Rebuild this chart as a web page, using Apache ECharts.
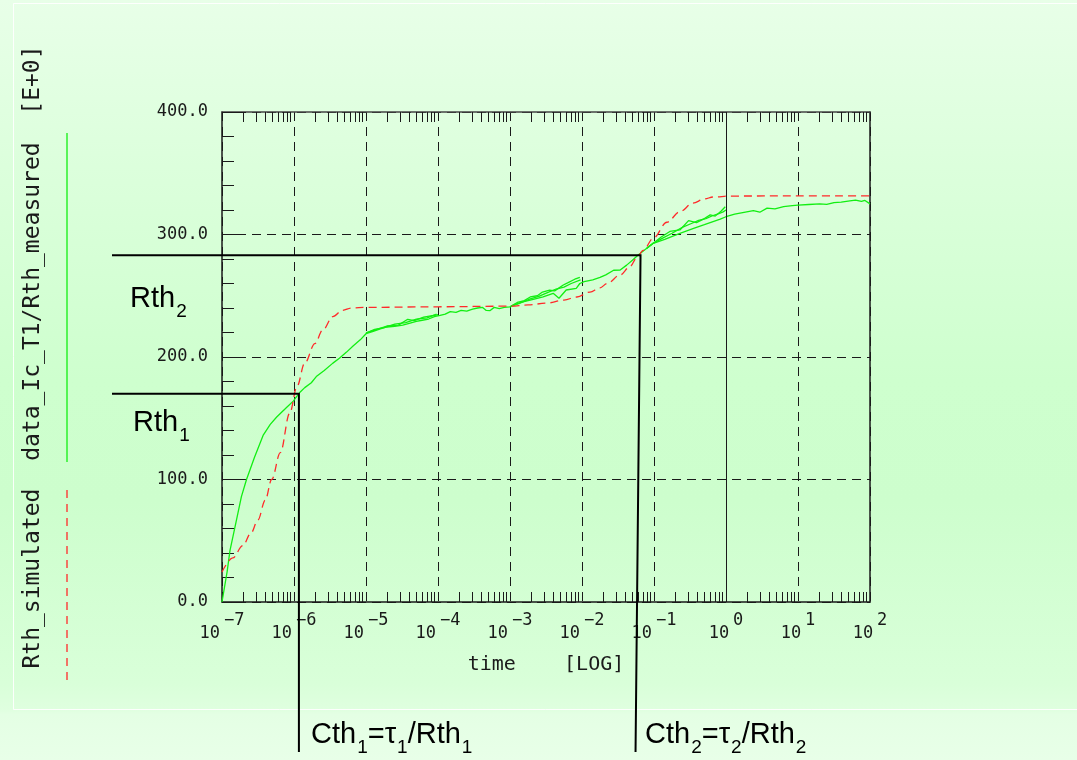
<!DOCTYPE html>
<html>
<head>
<meta charset="utf-8">
<script src="https://cdn.jsdelivr.net/npm/echarts@6/dist/echarts.min.js"></script>
<style>
  html, body {
    margin: 0; padding: 0; width: 1077px; height: 760px; overflow: hidden;
    background: linear-gradient(to bottom, #e8ffe8 0%, #dcffdc 22%, #ceffce 50%, #cdfecd 66%, #d9ffd9 90%, #dfffdf 93.3%, #e4ffe4 94%, #e8ffe8 100%);
  }
  #chart { width: 1077px; height: 760px; }
</style>
</head>
<body>
<div id="chart"></div>
<script>
// Thermal impedance step response: simulated Rth vs. measured Rth (time in seconds, Rth in K/W)

// x axis decades (exponents of 10) and y axis tick values
const decadeExponents = [-7, -6, -5, -4, -3, -2, -1, 0, 1, 2];
const yTickValues = [0, 100, 200, 300, 400];

// Rth_simulated  [time (s), Rth]
const rthSimulated = [
  [1.0e-7, 24.5], [1.41e-7, 36], [1.95e-7, 46], [2.51e-7, 56], [3.16e-7, 67],
  [3.98e-7, 83], [4.90e-7, 100], [6.46e-7, 122], [8.71e-7, 154], [1.10e-6, 176],
  [1.41e-6, 195], [1.95e-6, 211], [2.51e-6, 222], [3.47e-6, 233], [4.68e-6, 238],
  [6.31e-6, 240], [1.0e-5, 240.5], [1.0e-4, 241], [1.0e-3, 241.5], [1.78e-3, 242.5],
  [3.24e-3, 244], [5.62e-3, 246.5], [8.51e-3, 249], [1.29e-2, 253], [1.78e-2, 256.5],
  [2.24e-2, 260], [3.39e-2, 267], [4.68e-2, 274], [5.75e-2, 281], [7.08e-2, 287],
  [9.77e-2, 297], [1.51e-1, 310], [2.29e-1, 318.6], [3.47e-1, 325.6], [5.01e-1, 329],
  [6.61e-1, 330.6], [1.15, 331.4], [10, 331.5], [100, 331.5]
];

// data_Ic_T1/Rth_measured, full time range  [time (s), Rth]
const rthMeasured = [
  [1.0e-7, 0], [1.18e-7, 25], [1.29e-7, 42], [1.55e-7, 64], [1.86e-7, 86],
  [2.19e-7, 100], [2.82e-7, 118], [3.72e-7, 136], [4.68e-7, 145], [5.75e-7, 151],
  [7.94e-7, 159], [9.77e-7, 164], [1.10e-6, 168], [1.20e-6, 171], [1.41e-6, 175],
  [1.74e-6, 179], [2.04e-6, 184], [2.63e-6, 189], [3.47e-6, 195], [4.27e-6, 199],
  [5.37e-6, 204], [6.61e-6, 209], [8.32e-6, 214], [1.0e-5, 219], [1.26e-5, 221],
  [1.58e-5, 223], [1.95e-5, 224.5], [2.51e-5, 225], [3.24e-5, 226], [3.98e-5, 227.5],
  [5.01e-5, 229], [6.03e-5, 230], [7.41e-5, 231], [8.91e-5, 233], [1.07e-4, 234],
  [1.26e-4, 235], [1.48e-4, 237], [1.78e-4, 236.5], [2.09e-4, 238], [2.51e-4, 237.5],
  [3.02e-4, 239], [3.55e-4, 240], [4.17e-4, 240.5], [4.68e-4, 238], [5.25e-4, 237.8],
  [6.03e-4, 240.5], [7.08e-4, 239.5], [8.32e-4, 240.5], [1.0e-3, 241], [1.17e-3, 243],
  [1.51e-3, 245], [1.91e-3, 246.5], [2.88e-3, 249], [3.98e-3, 252], [4.79e-3, 248],
  [6.03e-3, 254.7], [8.32e-3, 256], [9.33e-3, 260], [1.07e-2, 261.5], [1.41e-2, 263],
  [1.78e-2, 265], [2.14e-2, 267], [2.75e-2, 270.8], [3.39e-2, 271], [4.17e-2, 275],
  [5.01e-2, 279], [6.03e-2, 283.3], [7.94e-2, 288.7], [9.55e-2, 292.5], [1.41e-1, 296],
  [2.29e-1, 301], [3.55e-1, 305], [5.01e-1, 308], [6.61e-1, 310.5], [8.32e-1, 312.5],
  [1.0, 314.5], [1.32, 316.6], [1.78, 318], [2.40, 319.4], [2.95, 318.2],
  [3.72, 321.5], [4.79, 321], [6.31, 322.7], [8.32, 323.5], [10, 324],
  [14.1, 324.5], [20.0, 325], [25.1, 324.6], [31.6, 326], [39.8, 326.5],
  [52.5, 327.5], [63.1, 328], [75.9, 327], [85.1, 327.8], [100, 325]
];

// repeated measurement windows (1e-5..1e-4 s)
const rthMeasuredA2 = [
  [1.0e-5, 219.6], [1.26e-5, 221.5], [1.95e-5, 225.3], [2.82e-5, 226], [3.80e-5, 230.8],
  [4.68e-5, 229.7], [6.31e-5, 232.5], [7.94e-5, 233.5], [1.0e-4, 234.5]
];
const rthMeasuredA3 = [
  [1.0e-5, 219.6], [1.32e-5, 222.5], [1.78e-5, 224], [2.51e-5, 226.8], [3.55e-5, 228],
  [5.01e-5, 231], [7.08e-5, 232], [9.55e-5, 235]
];
// repeated measurement windows (1e-3..1e-2 s)
const rthMeasuredB2 = [
  [1.0e-3, 241], [1.26e-3, 244.5], [1.58e-3, 246], [1.91e-3, 249], [2.40e-3, 250],
  [2.82e-3, 253], [3.55e-3, 254.5], [4.17e-3, 254], [5.50e-3, 258.8], [6.31e-3, 260.5],
  [7.94e-3, 263.5], [9.33e-3, 265]
];
const rthMeasuredB3 = [
  [1.0e-3, 241], [1.32e-3, 243.5], [1.91e-3, 247.5], [2.51e-3, 249.5], [3.31e-3, 252.5],
  [4.37e-3, 255.5], [5.62e-3, 257], [7.08e-3, 260], [9.55e-3, 263]
];
// repeated measurement windows (1e-1..1 s)
const rthMeasuredC2 = [
  [7.94e-2, 288.7], [9.55e-2, 292.5], [1.26e-1, 298], [1.66e-1, 302.5], [2.29e-1, 303.7],
  [3.02e-1, 311.3], [3.89e-1, 309.7], [5.01e-1, 313], [6.03e-1, 316], [7.08e-1, 315],
  [8.51e-1, 319], [9.77e-1, 322.7]
];
const rthMeasuredC3 = [
  [7.94e-2, 288.7], [9.55e-2, 292.5], [1.32e-1, 297], [1.78e-1, 301], [2.51e-1, 306],
  [3.31e-1, 309], [4.17e-1, 311.5], [5.25e-1, 313], [6.61e-1, 315.5], [7.94e-1, 317],
  [9.12e-1, 318.5], [1.0, 320]
];

// Thermal time constants read at the Rth plateaus
const rth1 = 170, tau1 = 1.17e-6;
const rth2 = 283, tau2 = 6.5e-2;

const INK = '#1a1a1a';
const MONO = '"DejaVu Sans Mono", "Liberation Mono", monospace';
const SANS = '"Liberation Sans", Arial, sans-serif';
const GREEN = '#12ee12';
const RED = '#ff2a2a';

// log minor tick positions (2..9 within each decade), in decade-exponent units
const minorTickExponents = [];
for (let i = 0; i < decadeExponents.length - 1; i++) {
  for (let k = 2; k <= 9; k++) minorTickExponents.push(decadeExponents[i] + Math.log10(k));
}

const chart = echarts.init(document.getElementById('chart'), null, { renderer: 'canvas' });

function expLabel(v) {
  const e = Math.round(Math.log10(v));
  return '{b|10}{e|' + (e < 0 ? '\u2212' + (-e) : String(e)) + '}';
}

const minorAxisBase = {
  type: 'value',
  min: decadeExponents[0],
  max: decadeExponents[decadeExponents.length - 1],
  axisTick: { show: true, inside: true, length: 10, customValues: minorTickExponents, lineStyle: { color: INK, width: 1 } },
  axisLabel: { show: false },
  splitLine: { show: false },
  silent: true
};

const greenLine = { color: GREEN, width: 1.3 };

chart.setOption({
  animation: false,
  backgroundColor: 'transparent',
  grid: {
    left: 222, right: 207, top: 112, bottom: 158,
    show: false,
    outerBoundsMode: 'none'
  },
  xAxis: [
    {
      type: 'log', logBase: 10,
      min: Math.pow(10, decadeExponents[0]),
      max: Math.pow(10, decadeExponents[decadeExponents.length - 1]),
      position: 'bottom',
      axisLine: { show: true, onZero: false, lineStyle: { color: INK, width: 1.5 } },
      axisTick: { show: false },
      splitLine: { show: true, lineStyle: { color: INK, width: 1, type: [9, 6] } },
      axisLabel: {
        margin: 10,
        formatter: expLabel,
        rich: {
          b: { fontFamily: MONO, fontSize: 17, color: INK, lineHeight: 18, verticalAlign: 'top', padding: [13, 0, 0, 0] },
          e: { fontFamily: MONO, fontSize: 17, color: INK, lineHeight: 18, verticalAlign: 'top', padding: [0, 0, 0, 4] }
        }
      },
      name: 'time    [LOG]',
      nameLocation: 'middle',
      nameGap: 53,
      nameTextStyle: { fontFamily: MONO, fontSize: 20, color: INK, verticalAlign: 'top' }
    },
    Object.assign({}, minorAxisBase, { position: 'bottom', axisLine: { show: false, onZero: false } }),
    Object.assign({}, minorAxisBase, { position: 'top', axisLine: { show: true, onZero: false, lineStyle: { color: '#444', width: 1.5 } } })
  ],
  yAxis: [
    {
      type: 'value',
      min: yTickValues[0], max: yTickValues[yTickValues.length - 1], interval: 100,
      position: 'left',
      axisLine: { show: true, onZero: false, lineStyle: { color: INK, width: 1.5 } },
      axisTick: { show: true, inside: true, length: 24, lineStyle: { color: INK } },
      minorTick: { show: true, splitNumber: 5, length: 12, lineStyle: { color: INK } },
      splitLine: { show: true, lineStyle: { color: INK, width: 1, type: [9, 6] } },
      axisLabel: { margin: 14, formatter: v => v.toFixed(1), fontFamily: MONO, fontSize: 17, color: INK }
    },
    {
      // right frame edge
      type: 'value',
      min: yTickValues[0], max: yTickValues[yTickValues.length - 1], interval: 100,
      position: 'right',
      axisLine: { show: true, onZero: false, lineStyle: { color: INK, width: 1.5 } },
      axisTick: { show: false }, axisLabel: { show: false }, splitLine: { show: false },
      silent: true
    }
  ],
  series: [
    {
      name: 'data_Ic_T1/Rth_measured', type: 'line', xAxisIndex: 0, yAxisIndex: 0,
      data: rthMeasured, showSymbol: false, symbol: 'none', lineStyle: greenLine, silent: true,
      markLine: {
        silent: true, symbol: 'none', label: { show: false },
        lineStyle: { color: INK, type: 'solid', width: 1 },
        data: [{ xAxis: 1 }]
      }
    },
    { name: 'measured window A2', type: 'line', data: rthMeasuredA2, showSymbol: false, symbol: 'none', lineStyle: greenLine, silent: true },
    { name: 'measured window A3', type: 'line', data: rthMeasuredA3, showSymbol: false, symbol: 'none', lineStyle: greenLine, silent: true },
    { name: 'measured window B2', type: 'line', data: rthMeasuredB2, showSymbol: false, symbol: 'none', lineStyle: greenLine, silent: true },
    { name: 'measured window B3', type: 'line', data: rthMeasuredB3, showSymbol: false, symbol: 'none', lineStyle: greenLine, silent: true },
    { name: 'measured window C2', type: 'line', data: rthMeasuredC2, showSymbol: false, symbol: 'none', lineStyle: greenLine, silent: true },
    { name: 'measured window C3', type: 'line', data: rthMeasuredC3, showSymbol: false, symbol: 'none', lineStyle: greenLine, silent: true },
    {
      name: 'Rth_simulated', type: 'line', data: rthSimulated, showSymbol: false, symbol: 'none',
      smooth: 0.35, smoothMonotone: 'x', silent: true,
      lineStyle: { color: RED, width: 1.3, type: [8, 5] }
    }
  ]
});

// Rth / tau construction lines and labels, anchored on the data scale
const p1 = chart.convertToPixel({ xAxisIndex: 0, yAxisIndex: 0 }, [tau1, rth1]);
const p2 = chart.convertToPixel({ xAxisIndex: 0, yAxisIndex: 0 }, [tau2, rth2]);
const lineLeftX = 112, lineBottomY = 752;

const subRich = {
  n: { fontFamily: SANS, fontSize: 29, color: '#111', lineHeight: 32, verticalAlign: 'top' },
  s: { fontFamily: SANS, fontSize: 19, color: '#111', lineHeight: 20, verticalAlign: 'top', padding: [18, 0, 0, 1] }
};
function richText(x, y, text) {
  return { type: 'text', x: x, y: y, silent: true, z: 20, style: { text: text, rich: subRich, align: 'left', verticalAlign: 'top' } };
}

chart.setOption({
  graphic: [
    // inner frame
    { type: 'rect', silent: true, z: -10, shape: { x: 13.5, y: 3.5, width: 1100, height: 706 },
      style: { fill: 'transparent', stroke: 'rgba(255,255,255,0.9)', lineWidth: 1 } },
    // y axis title with line samples
    { type: 'text', x: 33, y: 357, rotation: Math.PI / 2, silent: true,
      style: { text: 'Rth_simulated  data_Ic_T1/Rth_measured  [E+0]', font: '23px ' + MONO, fill: INK, align: 'center', verticalAlign: 'middle' } },
    { type: 'line', silent: true, shape: { x1: 67, y1: 133, x2: 67, y2: 462 }, style: { stroke: GREEN, lineWidth: 1.3 } },
    { type: 'line', silent: true, shape: { x1: 67, y1: 490, x2: 67, y2: 685 }, style: { stroke: RED, lineWidth: 1.3, lineDash: [8, 6] } },
    // Rth1 / tau1
    { type: 'polyline', silent: true, z: 15, shape: { points: [[lineLeftX, p1[1]], [p1[0], p1[1]], [p1[0], lineBottomY]] },
      style: { stroke: '#000', lineWidth: 2, fill: null } },
    // Rth2 / tau2
    { type: 'polyline', silent: true, z: 15, shape: { points: [[lineLeftX, p2[1]], [p2[0], p2[1]], [p2[0] - 5, lineBottomY]] },
      style: { stroke: '#000', lineWidth: 2, fill: null } },
    richText(130, 284, '{n|Rth}{s|2}'),
    richText(133, 408, '{n|Rth}{s|1}'),
    richText(311, 720, '{n|Cth}{s|1}{n|=\u03c4}{s|1}{n|/Rth}{s|1}'),
    richText(645, 720, '{n|Cth}{s|2}{n|=\u03c4}{s|2}{n|/Rth}{s|2}')
  ]
});
</script>
</body>
</html>
